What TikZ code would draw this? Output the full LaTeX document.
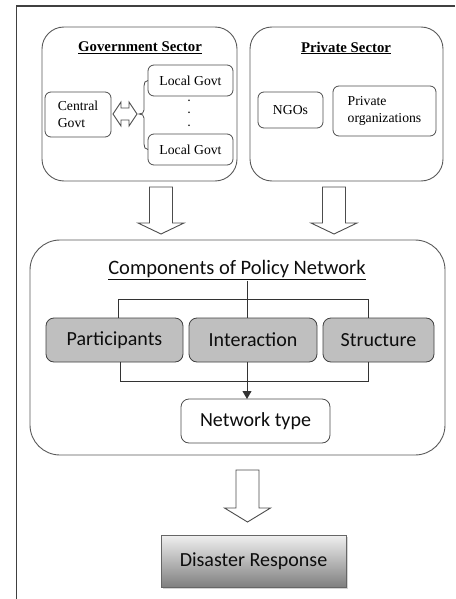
\documentclass[tikz,border=0pt]{standalone}
\usepackage{fontspec}
\setmainfont{Liberation Serif}
\newfontfamily\calibrifont{Carlito}
\usetikzlibrary{shadows,calc,arrows.meta}
\begin{document}
\begin{tikzpicture}[x=1pt,y=-1pt,
  frameline/.style={draw=black!75,line width=1.4pt},
  sector/.style={draw=black!65,rounded corners=22pt,line width=0.9pt,inner sep=0pt,outer sep=0pt},
  serifbox/.style={draw=black!70,rounded corners=6pt,line width=0.8pt,inner sep=0pt,outer sep=0pt,
    font=\fontsize{13.7}{17}\selectfont,align=left},
  seriftitle/.style={font=\bfseries\fontsize{14.8}{17}\selectfont,inner sep=0pt},
  dotnode/.style={font=\bfseries\fontsize{10}{10}\selectfont,inner sep=0pt},
  compbox/.style={draw=black!75,fill=black!25,rounded corners=8pt,line width=0.8pt,inner sep=0pt,outer sep=0pt,
    font=\calibrifont\fontsize{20}{24}\selectfont,text=black!95},
  whitebox/.style={draw=black!70,fill=white,rounded corners=8pt,line width=0.8pt,inner sep=0pt,outer sep=0pt,
    font=\calibrifont\fontsize{20}{24}\selectfont,text=black!95},
  arrowline/.style={draw=black!70,line width=0.9pt,fill=white,line join=miter},
  conn/.style={draw=black!80,line width=0.9pt},
  pics/downarrow/.style 2 args={code={
    \draw[arrowline] (-11.5,0) -- (11.5,0) -- (11.5,#1) -- (23,#1) -- (0,#2) -- (-23,#1) -- (-11.5,#1) -- cycle;}}
]
\useasboundingbox (0,0) rectangle (455,599);
% outer frame
\draw[frameline] (16.5,599) -- (16.5,6) -- (455,6);

% government sector
\node[sector,minimum width=195pt,minimum height=154pt] (gov) at (139.5,104) {};
\node[seriftitle] (govtitle) at (140,48) {\underline{Government Sector}};
\node[serifbox,minimum width=85pt,minimum height=31pt] (lg1) at (190.5,80.5) {Local Govt};
\node[serifbox,minimum width=85pt,minimum height=31pt] (lg2) at (190.5,149.5) {Local Govt};
\node[dotnode] (dot1) at (189,100.5) {.};
\node[dotnode] (dot2) at (189,113) {.};
\node[dotnode] (dot3) at (189,125.5) {.};
\node[serifbox,minimum width=66pt,minimum height=45pt] (cg) at (78,114.5) {Central\\Govt};
\draw[arrowline] (113,114) -- (121,102) -- (121,108) -- (129,108) -- (129,102) -- (137,114)
  -- (129,126) -- (129,120) -- (121,120) -- (121,126) -- cycle;
\draw[draw=black!70,line width=0.8pt] (lg1.west) .. controls (145,80.5) and (144,83) .. (144,86)
  -- (144,110) .. controls (144,113) and (142,114) .. (139,114)
  .. controls (142,114) and (144,115) .. (144,118) -- (144,144)
  .. controls (144,147) and (145,149.5) .. (lg2.west);

% private sector
\node[sector,minimum width=193pt,minimum height=154pt] (priv) at (346.5,104) {};
\node[seriftitle] (privtitle) at (346,48) {\underline{Private Sector}};
\node[serifbox,minimum width=65pt,minimum height=36pt] (ngo) at (290.5,110) {NGOs};
\node[serifbox,minimum width=103pt,minimum height=50pt] (porg) at (384.5,111) {Private\\organizations};

% arrows to components
\pic at (161,187) {downarrow={36}{47}};
\pic at (334,187) {downarrow={36}{47}};

% components box
\node[sector,rounded corners=30pt,minimum width=415pt,minimum height=215pt] (comp) at (237.5,347.5) {};
\node[font=\calibrifont\fontsize{20.5}{24}\selectfont,text=black!95,inner sep=1pt] (ctitle) at (237,270) {\underline{Components of Policy Network}};
\node[compbox,minimum width=137pt,minimum height=44pt] (part) at (114.5,340) {Participants};
\node[compbox,minimum width=128pt,minimum height=44pt] (inter) at (253,340) {Interaction};
\node[compbox,minimum width=111pt,minimum height=44pt] (struct) at (378.5,340) {Structure};
\node[whitebox,minimum width=149pt,minimum height=44pt] (net) at (255.5,421) {Network type};

\coordinate (spine) at (247,0);
\coordinate (tl) at (118,299);
\coordinate (tr) at (368,299);
\coordinate (bl) at (120,381);
\coordinate (br) at (368,381);
\draw[conn] (ctitle.south -| spine) -- (inter.north -| spine);
\draw[conn] (part.north -| tl) -- (tl) -- (tr) -- (struct.north -| tr);
\draw[conn] (part.south -| bl) -- (bl) -- (br) -- (struct.south -| br);
\draw[conn,-{Triangle[length=8pt,width=9pt]}] (inter.south -| spine) -- (net.north -| spine);

% final arrow and disaster response
\pic at (247.5,470) {downarrow={38}{52}};
\node[draw=black!60,line width=0.8pt,top color=black!6,bottom color=black!50,
  drop shadow={shadow xshift=1.5pt,shadow yshift=-1.5pt,opacity=0.35},
  minimum width=185pt,minimum height=52pt,inner sep=0pt,
  font=\calibrifont\fontsize{20}{24}\selectfont,text=black!95] (dr) at (253.5,561) {Disaster Response};
\end{tikzpicture}
\end{document}
